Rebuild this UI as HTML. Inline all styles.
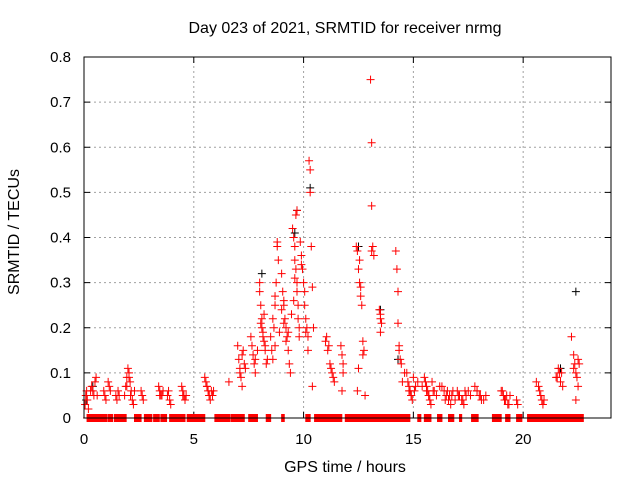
<!DOCTYPE html>
<html><head><meta charset="utf-8"><style>
body{margin:0;background:#fff;}
svg{display:block;font-family:"Liberation Sans",sans-serif;}
</style></head><body>
<svg id="chart" width="640" height="480">
<rect width="640" height="480" fill="#fff"/>
<text x="345" y="33" font-size="16" text-anchor="middle">Day 023 of 2021, SRMTID for receiver nrmg</text>
<text x="345" y="472" font-size="16" text-anchor="middle">GPS time / hours</text>
<text transform="translate(19,232) rotate(-90)" font-size="16" text-anchor="middle">SRMTID / TECUs</text>
<g id="grid"></g>
<g id="ticks"></g>
<g id="marks"></g>
<rect x="84" y="57" width="527" height="361" fill="none" stroke="#000" stroke-width="1"/>
</svg>
<script>
const xTicks=[0,5,10,15,20];
const yTicks=[0,0.1,0.2,0.3,0.4,0.5,0.6,0.7,0.8];
const yTickLabels=["0","0.1","0.2","0.3","0.4","0.5","0.6","0.7","0.8"];
const redTimes=[0.05,0.1,0.12,0.15,0.2,0.35,0.4,0.45,0.5,0.55,0.9,0.95,1.0,1.1,1.15,1.45,1.5,1.55,
1.85,1.9,1.95,2.0,2.05,2.1,2.15,2.2,2.25,2.6,2.65,2.7,3.4,3.45,3.5,3.55,3.85,3.9,3.95,4.45,4.5,4.55,4.6,
5.5,5.55,5.6,5.65,5.7,5.75,5.8,6.6,
7.0,7.05,7.1,7.15,7.2,7.25,7.3,7.6,7.65,7.7,7.75,7.8,
8.0,8.05,8.1,8.1,8.15,8.2,8.25,8.3,8.0,8.5,8.55,8.6,8.65,8.7,8.75,8.8,8.8,8.85,8.7,
9.0,9.05,9.1,9.15,9.2,9.25,9.3,9.35,9.4,9.1,
9.5,9.55,9.6,9.6,9.65,9.7,9.7,9.75,9.75,9.8,9.8,9.65,9.7,
9.9,9.95,10.0,10.05,10.1,10.15,10.2,10.2,
10.25,10.3,10.3,10.35,10.4,10.45,10.4,
11.0,11.1,11.2,11.3,11.4,11.05,11.7,11.75,11.8,11.75,
12.4,12.45,12.5,12.55,12.6,12.65,12.7,12.5,12.45,12.75,12.8,
13.05,13.1,13.1,13.15,13.2,13.45,13.5,13.55,13.5,
14.2,14.25,14.3,14.3,14.35,14.4,14.45,
14.7,14.75,14.8,14.85,14.9,14.95,15.0,15.1,
15.5,15.55,15.6,15.65,15.7,15.75,15.8,15.85,15.95,
16.3,16.4,16.5,16.6,16.7,16.75,16.8,17.0,17.1,17.2,17.3,17.4,17.5,
17.8,17.9,18.0,18.2,19.0,19.1,19.2,19.3,19.25,19.7,19.75,
20.6,20.7,20.8,20.85,20.9,21.5,21.6,21.65,21.7,21.8,
22.2,22.3,22.35,22.4,22.45,22.5,22.4,22.5,
0.08,0.3,0.6,1.2,1.6,1.95,2.05,2.12,2.3,3.45,3.6,3.8,4.5,4.65,5.6,5.7,5.85,5.9,
7.1,7.2,7.35,7.8,7.9,8.05,8.15,8.2,8.25,8.35,8.6,8.7,8.9,9.0,9.1,9.2,9.3,9.45,9.55,9.6,9.85,9.9,10.05,10.1,
11.15,11.25,11.35,11.8,12.55,12.6,12.7,13.1,13.5,14.35,14.5,14.6,14.8,14.9,15.05,15.2,15.4,15.6,15.7,15.9,
16.05,16.2,16.45,16.55,16.65,16.9,17.05,17.25,17.35,17.6,17.9,18.05,18.1,18.3,19.05,19.15,19.35,19.4,
20.75,20.95,21.55,21.75,22.3,22.55];
const redValues=[0.03,0.05,0.06,0.04,0.02,0.07,0.06,0.05,0.08,0.09,0.06,0.05,0.04,0.08,0.07,0.05,0.04,0.06,
0.05,0.07,0.09,0.11,0.10,0.08,0.06,0.04,0.03,0.06,0.05,0.04,0.07,0.06,0.05,0.05,0.06,0.04,0.03,0.07,0.06,0.05,0.04,
0.09,0.08,0.07,0.06,0.05,0.04,0.06,0.08,
0.16,0.13,0.11,0.09,0.07,0.15,0.12,0.18,0.16,0.14,0.12,0.10,
0.28,0.25,0.22,0.20,0.18,0.17,0.15,0.12,0.30,0.18,0.15,0.13,0.20,0.25,0.30,0.38,0.39,0.35,0.27,
0.32,0.28,0.26,0.22,0.20,0.18,0.15,0.12,0.10,0.25,
0.42,0.40,0.38,0.35,0.33,0.30,0.28,0.25,0.22,0.20,0.18,0.45,0.46,
0.36,0.33,0.30,0.28,0.22,0.20,0.18,0.15,
0.57,0.55,0.50,0.38,0.29,0.20,0.07,
0.17,0.15,0.12,0.10,0.08,0.18,0.16,0.14,0.12,0.06,
0.38,0.37,0.33,0.30,0.27,0.25,0.14,0.11,0.06,0.15,0.05,
0.75,0.61,0.47,0.38,0.36,0.24,0.22,0.21,0.19,
0.37,0.33,0.28,0.21,0.16,0.13,0.12,
0.10,0.08,0.07,0.06,0.05,0.04,0.09,0.07,
0.09,0.08,0.07,0.06,0.05,0.04,0.03,0.08,0.06,
0.07,0.06,0.05,0.04,0.03,0.05,0.06,0.06,0.05,0.04,0.03,0.05,0.06,
0.07,0.06,0.05,0.04,0.06,0.05,0.04,0.03,0.05,0.04,0.03,
0.08,0.07,0.05,0.04,0.03,0.09,0.11,0.10,0.08,0.07,
0.18,0.14,0.12,0.10,0.09,0.07,0.04,0.13,
0.05,0.06,0.05,0.06,0.05,0.07,0.09,0.05,0.06,0.05,0.06,0.05,0.05,0.05,0.07,0.05,0.05,0.06,
0.10,0.14,0.11,0.13,0.15,0.21,0.19,0.23,0.16,0.13,0.22,0.16,0.19,0.24,0.21,0.17,0.19,0.23,0.26,0.31,0.39,0.34,0.25,0.19,
0.16,0.11,0.09,0.10,0.35,0.29,0.17,0.37,0.23,0.15,0.08,0.10,0.06,0.05,0.06,0.08,0.07,0.06,0.05,0.06,
0.05,0.07,0.04,0.06,0.05,0.04,0.05,0.04,0.06,0.05,0.06,0.05,0.04,0.05,0.06,0.04,0.03,0.05,
0.06,0.04,0.09,0.10,0.11,0.12];
const blackTimes=[0.1,0.4,8.1,9.6,9.7,10.3,12.5,13.5,14.3,21.7,22.4];
const blackValues=[0.04,0.07,0.32,0.41,0.46,0.51,0.38,0.24,0.13,0.11,0.28];
const zeroSegStarts=[0.14,1.1,1.38,2.3,2.75,3.17,3.5,3.9,4.7,5.96,6.7,7.1,7.5,8.3,9.0,10.1,10.5,11.9,15.2,15.5,16.1,16.6,17.1,17.65,18.6,19.2,19.7,20.2];
const zeroSegEnds=[1.05,1.3,1.93,2.6,3.1,3.44,3.76,4.6,5.5,6.65,7.06,7.3,7.9,8.5,9.13,10.3,11.75,14.85,15.35,15.8,16.3,16.85,17.2,17.95,19.0,19.4,19.95,22.75];

const X0=84,X1=611,Y0=418,Y1=57,XMAX=24,YMAX=0.8;
const xs=t=>X0+(X1-X0)*t/XMAX;
const ys=v=>Y0-(Y0-Y1)*v/YMAX;
const NS="http://www.w3.org/2000/svg";
const grid=document.getElementById('grid'),ticks=document.getElementById('ticks'),marks=document.getElementById('marks');
function mk(tag,attrs,parent){const e=document.createElementNS(NS,tag);for(const k in attrs)e.setAttribute(k,attrs[k]);parent.appendChild(e);return e;}
xTicks.forEach(t=>{
  const x=xs(t);
  if(t>0){const g=mk('line',{x1:x,x2:x,y1:Y0,y2:Y1,stroke:'#a0a0a0','stroke-dasharray':'2,3'},grid);
  
  }
  mk('line',{x1:x,x2:x,y1:Y0,y2:Y0-6,stroke:'#000'},ticks);
  mk('line',{x1:x,x2:x,y1:Y1,y2:Y1+6,stroke:'#000'},ticks);
  const l=mk('text',{x:x,y:444,'font-size':15,'text-anchor':'middle'},ticks);l.textContent=t;
  
  
});
yTicks.forEach((v,i)=>{
  const y=ys(v);
  if(v>0&&v<YMAX){const g=mk('line',{x1:X0,x2:X1,y1:y,y2:y,stroke:'#a0a0a0','stroke-dasharray':'2,3'},grid);
  
  }
  mk('line',{x1:X0,x2:X0+6,y1:y,y2:y,stroke:'#000'},ticks);
  mk('line',{x1:X1,x2:X1-6,y1:y,y2:y,stroke:'#000'},ticks);
  const l=mk('text',{x:71,y:y+5,'font-size':15,'text-anchor':'end'},ticks);l.textContent=yTickLabels[i];
  
  
});
function plus(t,v,c,name){
  const x=xs(t),y=ys(v);
  const p=mk('path',{d:`M${x-4},${y}h8M${x},${y-4}v8`,stroke:c,'stroke-width':1,fill:'none'},marks);
  
  
}
blackTimes.forEach((t,i)=>plus(t,blackValues[i],'#000','black-point'));
redTimes.forEach((t,i)=>plus(t,redValues[i],'#f00','red-point'));
zeroSegStarts.forEach((s,i)=>{
  for(let t=s;t<=zeroSegEnds[i]+1e-9;t+=0.02)plus(t,0,'#f00','zero-point');
});
</script>
</body></html>
